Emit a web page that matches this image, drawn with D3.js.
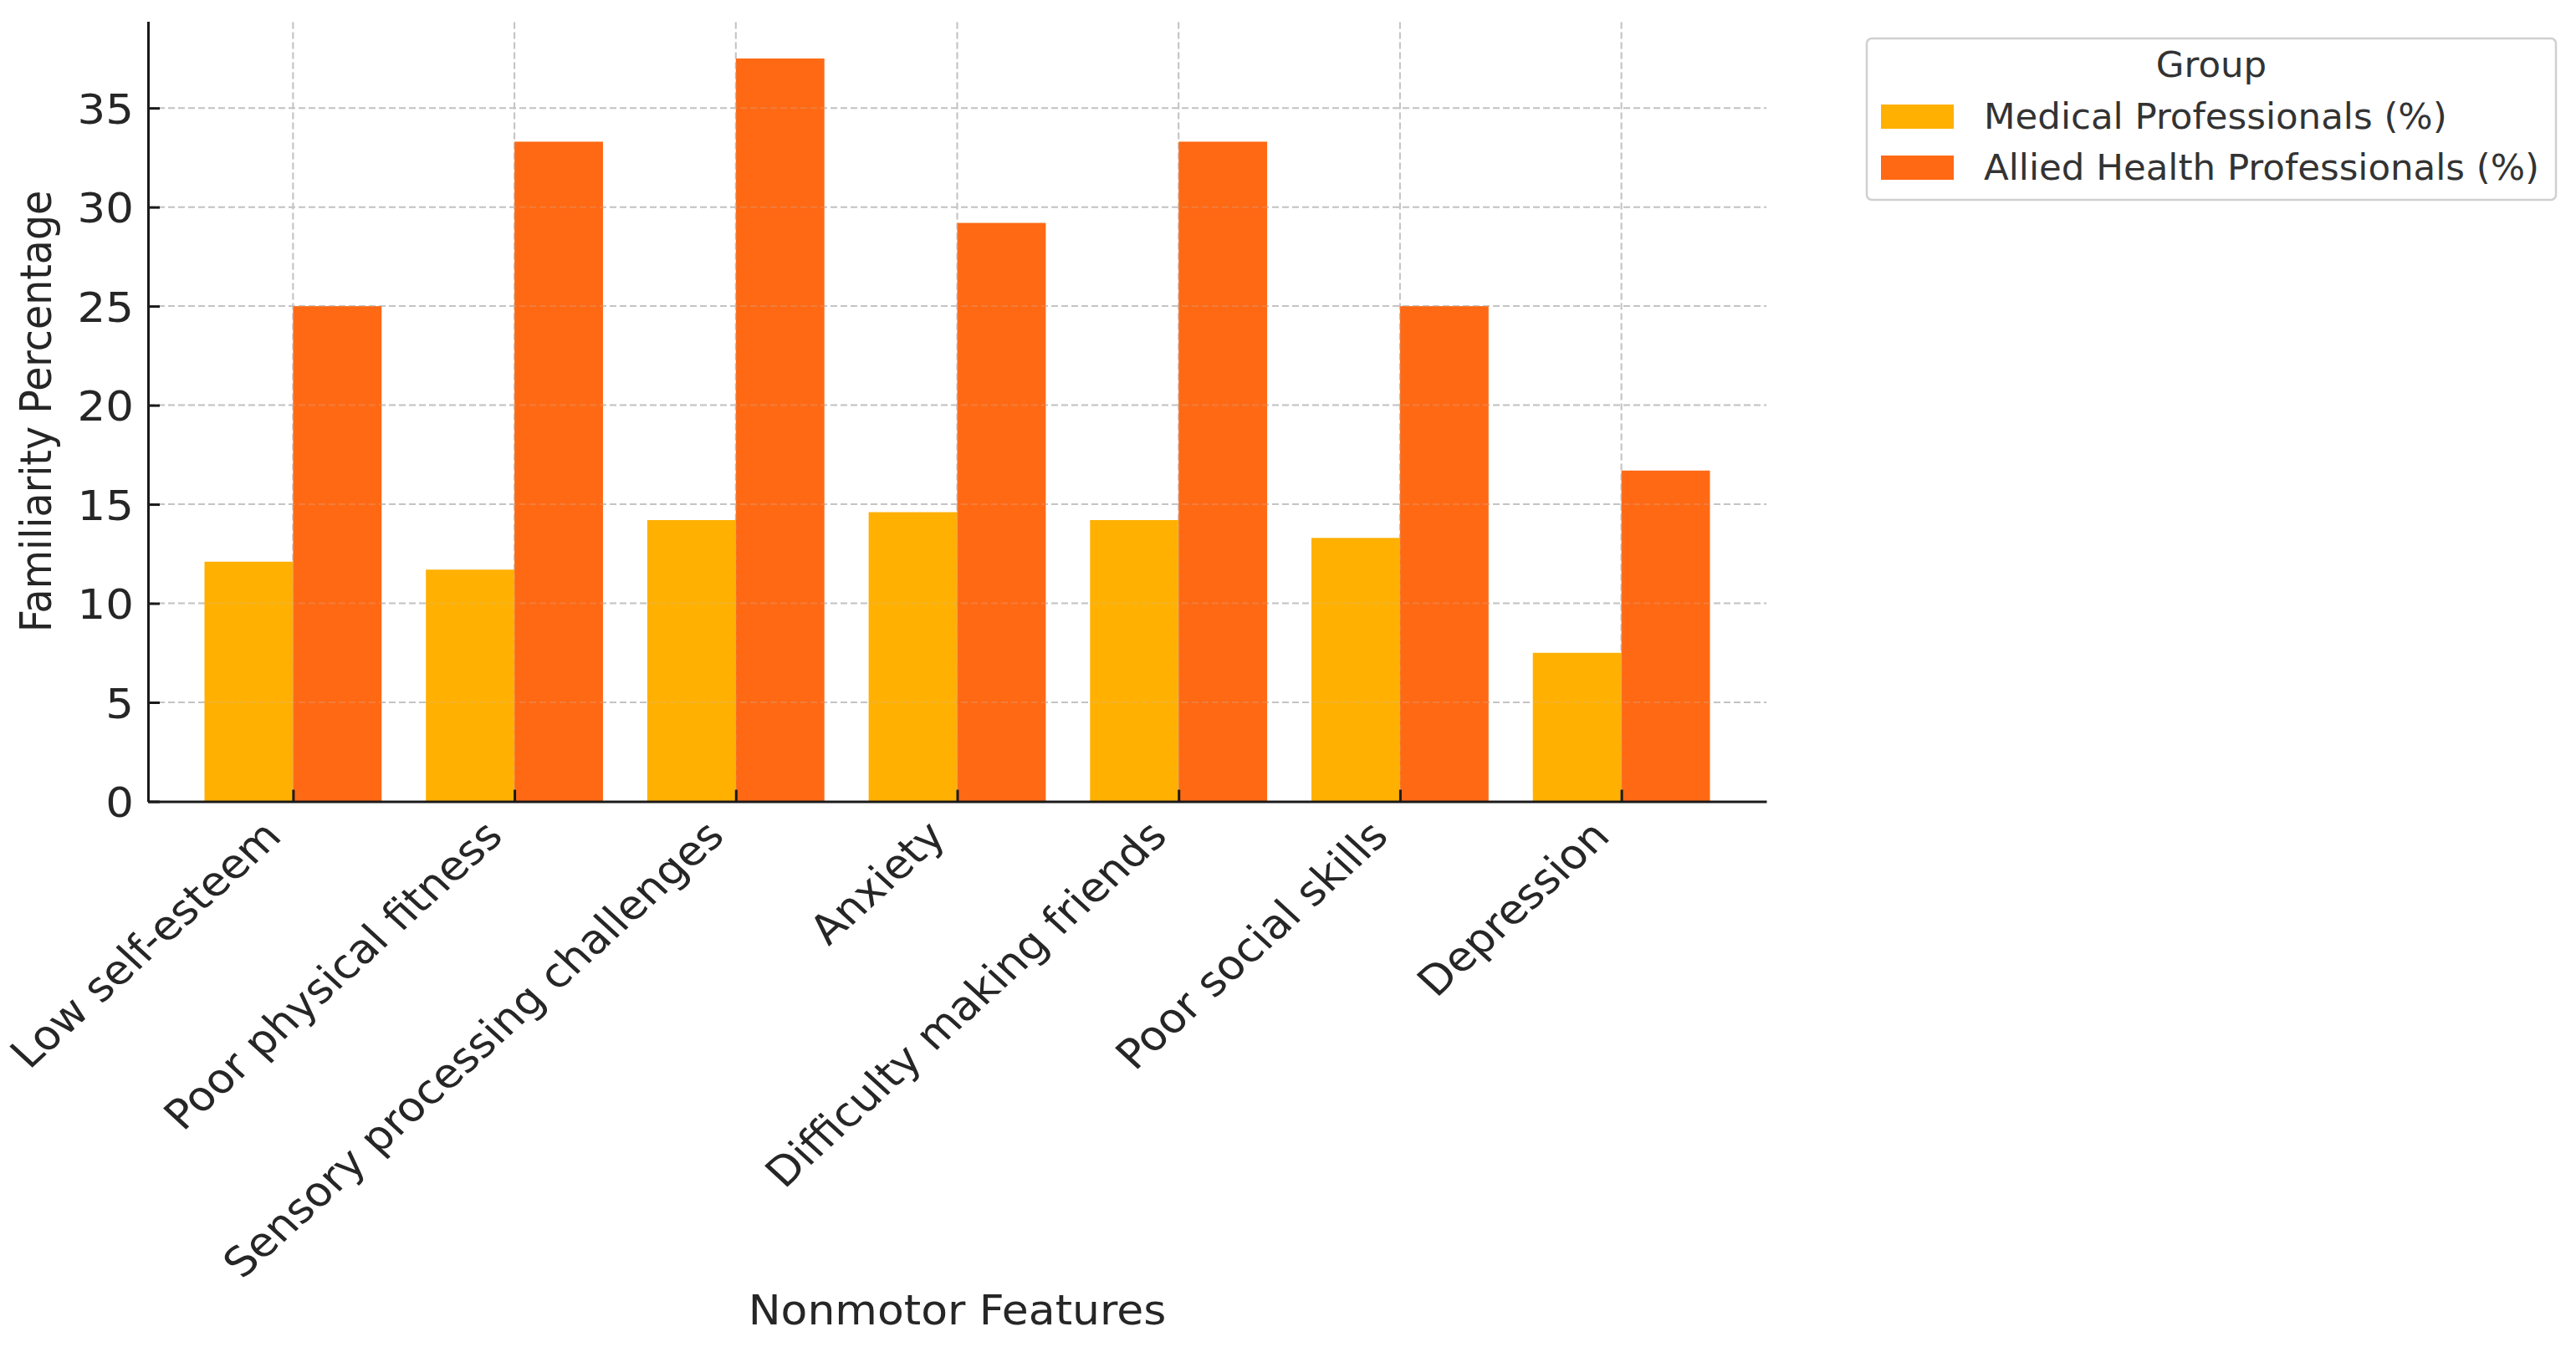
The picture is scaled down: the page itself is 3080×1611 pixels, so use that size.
<!DOCTYPE html>
<html>
<head>
<meta charset="utf-8">
<script src="https://cdn.jsdelivr.net/npm/d3@7"></script>
<style>
  html, body { margin: 0; padding: 0; background: #ffffff; }
  svg { display: block; }
</style>
</head>
<body>
<svg id="chart" width="3080" height="1611"></svg>
<script>
const categories = [
  "Low self-esteem",
  "Poor physical fitness",
  "Sensory processing challenges",
  "Anxiety",
  "Difficulty making friends",
  "Poor social skills",
  "Depression"
];
const medicalValues = [12.1, 11.7, 14.2, 14.6, 14.2, 13.3, 7.5];
const alliedValues  = [25.0, 33.3, 37.5, 29.2, 33.3, 25.0, 16.7];
const seriesNames = ["Medical Professionals (%)", "Allied Health Professionals (%)"];
const seriesColors = ["#FFB000", "#FF6914"];
const yTickValues = [0, 5, 10, 15, 20, 25, 30, 35];
const legendTitle = "Group";
const xAxisTitle = "Nonmotor Features";
const yAxisTitle = "Familiarity Percentage";

(function () {
const svg = d3.select("#chart");
const FONT = "DejaVu Sans, Verdana, sans-serif";

const pL = 177, pR = 2112, pT = 25.5, pB = 958.5;
const barW = 0.4;

const x = d3.scaleLinear().domain([-0.655, categories.length - 1 + 0.655]).range([pL, pR]);
const y = d3.scaleLinear().domain([0, 37.5 * 1.05]).range([pB, pT]);

const series = [medicalValues, alliedValues];

function drawGrid(g, opacity) {
  g.selectAll("line.h").data(yTickValues.filter(v => v > 0)).join("line")
    .attr("class", "h")
    .attr("x1", pL).attr("x2", pR)
    .attr("y1", d => y(d)).attr("y2", d => y(d))
    .attr("stroke", "#c4c4c4").attr("stroke-width", 2)
    .attr("stroke-dasharray", "8,4").attr("opacity", opacity);
  g.selectAll("line.v").data(categories.map((c, i) => i)).join("line")
    .attr("class", "v")
    .attr("x1", d => x(d)).attr("x2", d => x(d))
    .attr("y1", pB).attr("y2", pT)
    .attr("stroke", "#c4c4c4").attr("stroke-width", 2)
    .attr("stroke-dasharray", "8,4").attr("opacity", opacity);
}
drawGrid(svg.append("g"), 1);

series.forEach((vals, s) => {
  svg.append("g").selectAll("rect").data(vals).join("rect")
    .attr("x", (d, i) => x(i - barW + s * barW))
    .attr("width", (d, i) => x(i + s * barW) - x(i - barW + s * barW))
    .attr("y", d => y(d))
    .attr("height", d => y(0) - y(d))
    .attr("fill", seriesColors[s]);
});

drawGrid(svg.append("g"), 0.22);

const yAxis = d3.axisLeft(y).tickValues(yTickValues).tickSizeInner(-14).tickSizeOuter(0).tickPadding(17);
const gy = svg.append("g").attr("transform", `translate(${pL},0)`).call(yAxis);
gy.select(".domain").attr("stroke", "#1a1a1a").attr("stroke-width", 3);
gy.selectAll(".tick line").attr("stroke", "#1a1a1a").attr("stroke-width", 3);
gy.selectAll(".tick text").attr("font-family", FONT).attr("font-size", 50).attr("fill", "#262626")
  .attr("dy", "0.36em").attr("x", -16).attr("transform", "scale(1.06,1)");

const xAxis = d3.axisBottom(x).tickValues(categories.map((c, i) => i))
  .tickFormat(i => categories[i]).tickSizeInner(-14).tickSizeOuter(0);
const gx = svg.append("g").attr("transform", `translate(0,${pB})`).call(xAxis);
gx.select(".domain").attr("stroke", "#1a1a1a").attr("stroke-width", 3);
gx.selectAll(".tick line").attr("stroke", "#1a1a1a").attr("stroke-width", 3);
gx.selectAll(".tick text")
  .attr("font-family", FONT).attr("font-size", 48.5).attr("fill", "#262626")
  .attr("text-anchor", "end").attr("x", null).attr("y", null).attr("dy", null)
  .attr("transform", "translate(-12,44) scale(1.095,1) rotate(-45)");

svg.append("text")
  .attr("transform", `translate(${(pL + pR) / 2},1584) scale(1.05,1)`)
  .attr("text-anchor", "middle")
  .attr("font-family", FONT).attr("font-size", 49.5).attr("fill", "#262626")
  .text(xAxisTitle);

svg.append("text")
  .attr("transform", `translate(61,${(pT + pB) / 2}) scale(1.08,1) rotate(-90)`)
  .attr("text-anchor", "middle")
  .attr("font-family", FONT).attr("font-size", 47.5).attr("fill", "#262626")
  .text(yAxisTitle);

const lg = svg.append("g");
lg.append("rect")
  .attr("x", 2232).attr("y", 46).attr("width", 824).attr("height", 193)
  .attr("rx", 6).attr("ry", 6)
  .attr("fill", "#ffffff").attr("stroke", "#d0d0d0").attr("stroke-width", 2.5);
lg.append("text")
  .attr("x", 2644).attr("y", 92).attr("text-anchor", "middle")
  .attr("font-family", FONT).attr("font-size", 43.5).attr("fill", "#333333")
  .text(legendTitle);
seriesNames.forEach((name, s) => {
  const yy = 125 + s * 61;
  lg.append("rect").attr("x", 2249).attr("y", yy).attr("width", 87).attr("height", 29)
    .attr("fill", seriesColors[s]);
  lg.append("text").attr("x", 2372).attr("y", yy + 29)
    .attr("font-family", FONT).attr("font-size", 43.5).attr("fill", "#333333")
    .text(name);
});
})();
</script>
</body>
</html>
